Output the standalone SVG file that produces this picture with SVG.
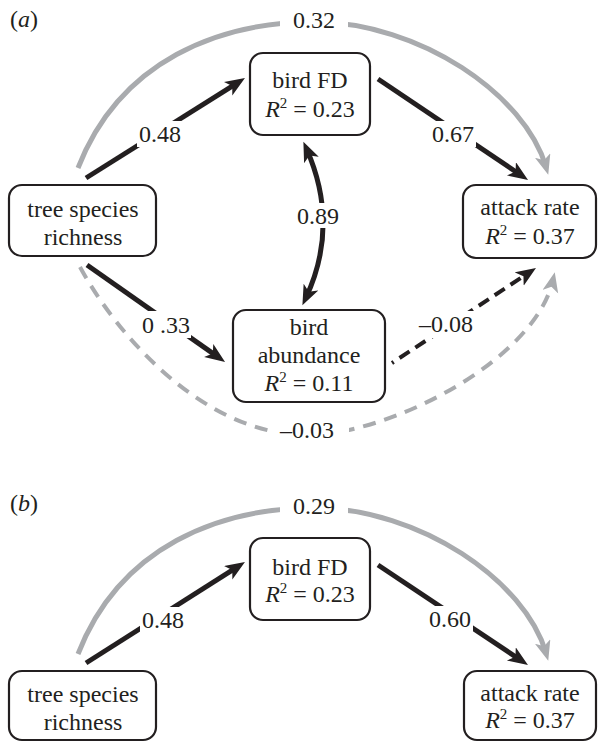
<svg xmlns="http://www.w3.org/2000/svg" width="598" height="742" viewBox="0 0 598 742">
<style>
text{font-family:'Liberation Serif','Times New Roman',Times,serif;font-size:24px;fill:#231f20;text-anchor:middle}
.box{fill:#fff;stroke:#231f20;stroke-width:2.2}
.blk{fill:none;stroke:#231f20;stroke-width:5}
.gry{fill:none;stroke:#a9abae;stroke-width:5}
.dblk{fill:none;stroke:#231f20;stroke-width:4;stroke-dasharray:12 7;stroke-dashoffset:10}
.dgry{fill:none;stroke:#a9abae;stroke-width:4;stroke-dasharray:13 9}
.lb{fill:#fff}
.panel{text-anchor:start}
</style>
<defs>
<marker id="ab" markerUnits="userSpaceOnUse" markerWidth="22" markerHeight="18" refX="12" refY="8" orient="auto-start-reverse">
<path d="M0,0 L20,8 L0,16 L5,8 z" fill="#231f20"/>
</marker>
<marker id="ag" markerUnits="userSpaceOnUse" markerWidth="22" markerHeight="18" refX="12" refY="8" orient="auto">
<path d="M0,0 L20,8 L0,16 L5,8 z" fill="#a9abae"/>
</marker>
</defs>

<g id="connectors">
<path class="gry" d="M78,168 C120,60 220,22 314,22 C420,22 525,95 546,167" marker-end="url(#ag)"/>
<rect class="lb" x="280" y="6" width="68" height="28"/>
<path class="dgry" d="M80,267 C118,337 205,435 307,435 C390,435 535,360 553,280" marker-end="url(#ag)"/>
<rect class="lb" x="271" y="418" width="78" height="26"/>
<line class="blk" x1="86" y1="178" x2="238.2" y2="82.3" marker-end="url(#ab)"/>
<rect class="lb" x="137" y="121" width="46" height="26"/>
<line class="blk" x1="378" y1="79" x2="521.4" y2="175.5" marker-end="url(#ab)"/>
<rect class="lb" x="430" y="121" width="46" height="26"/>
<line class="blk" x1="87" y1="265" x2="218.5" y2="357.4" marker-end="url(#ab)"/>
<rect class="lb" x="141" y="311" width="50" height="27"/>
<line class="dblk" x1="392" y1="363" x2="529.3" y2="272.4" marker-end="url(#ab)"/>
<rect class="lb" x="417" y="311" width="58" height="27"/>
<path class="blk" d="M306.6,149 Q340,225 305.8,298" marker-start="url(#ab)" marker-end="url(#ab)"/>
<rect class="lb" x="296" y="203" width="44" height="25"/>
<path class="gry" d="M78,654 C120,546 220,508 314,508 C420,508 525,581 546,653" marker-end="url(#ag)"/>
<rect class="lb" x="280" y="492" width="68" height="28"/>
<line class="blk" x1="86" y1="663" x2="238.2" y2="566.3" marker-end="url(#ab)"/>
<rect class="lb" x="140" y="607" width="46" height="26"/>
<line class="blk" x1="378" y1="565" x2="521.3" y2="660.6" marker-end="url(#ab)"/>
<rect class="lb" x="427" y="606" width="46" height="26"/>
</g>

<g id="labels" font-family="Liberation Serif, serif">
<text class="panel" x="10" y="27">(<tspan font-style="italic">a</tspan>)</text>
<text x="314" y="28">0.32</text>
<text x="160" y="142">0.48</text>
<text x="453" y="142">0.67</text>
<text x="318" y="224">0.89</text>
<text x="166" y="333">0 .33</text>
<text x="446" y="332">–0.08</text>
<text x="307" y="438">–0.03</text>
<text class="panel" x="10" y="511">(<tspan font-style="italic">b</tspan>)</text>
<text x="314" y="514">0.29</text>
<text x="163" y="628">0.48</text>
<text x="450" y="627">0.60</text>
</g>

<g id="a-tree">
<rect class="box" x="9" y="185" width="147" height="71" rx="13"/>
<text x="83" y="217">tree species</text>
<text x="83" y="245">richness</text>
</g>
<g id="a-birdfd">
<rect class="box" x="250" y="53" width="120" height="82" rx="13"/>
<text x="310" y="88">bird FD</text>
<text x="310" y="117"><tspan font-style="italic">R</tspan><tspan font-size="15" dy="-9">2</tspan><tspan dy="9"> = 0.23</tspan></text>
</g>
<g id="a-attack">
<rect class="box" x="463" y="185" width="133" height="73" rx="13"/>
<text x="530" y="215">attack rate</text>
<text x="530" y="244"><tspan font-style="italic">R</tspan><tspan font-size="15" dy="-9">2</tspan><tspan dy="9"> = 0.37</tspan></text>
</g>
<g id="a-abundance">
<rect class="box" x="233" y="310" width="152" height="92" rx="13"/>
<text x="309" y="335">bird</text>
<text x="309" y="363">abundance</text>
<text x="309" y="391"><tspan font-style="italic">R</tspan><tspan font-size="15" dy="-9">2</tspan><tspan dy="9"> = 0.11</tspan></text>
</g>

<g id="b-tree">
<rect class="box" x="9" y="671" width="147" height="69" rx="13"/>
<text x="83" y="702">tree species</text>
<text x="83" y="730">richness</text>
</g>
<g id="b-birdfd">
<rect class="box" x="250" y="538" width="120" height="82" rx="13"/>
<text x="310" y="575">bird FD</text>
<text x="310" y="602"><tspan font-style="italic">R</tspan><tspan font-size="15" dy="-9">2</tspan><tspan dy="9"> = 0.23</tspan></text>
</g>
<g id="b-attack">
<rect class="box" x="464" y="671" width="132" height="69" rx="13"/>
<text x="530" y="701">attack rate</text>
<text x="530" y="728"><tspan font-style="italic">R</tspan><tspan font-size="15" dy="-9">2</tspan><tspan dy="9"> = 0.37</tspan></text>
</g>
</svg>
